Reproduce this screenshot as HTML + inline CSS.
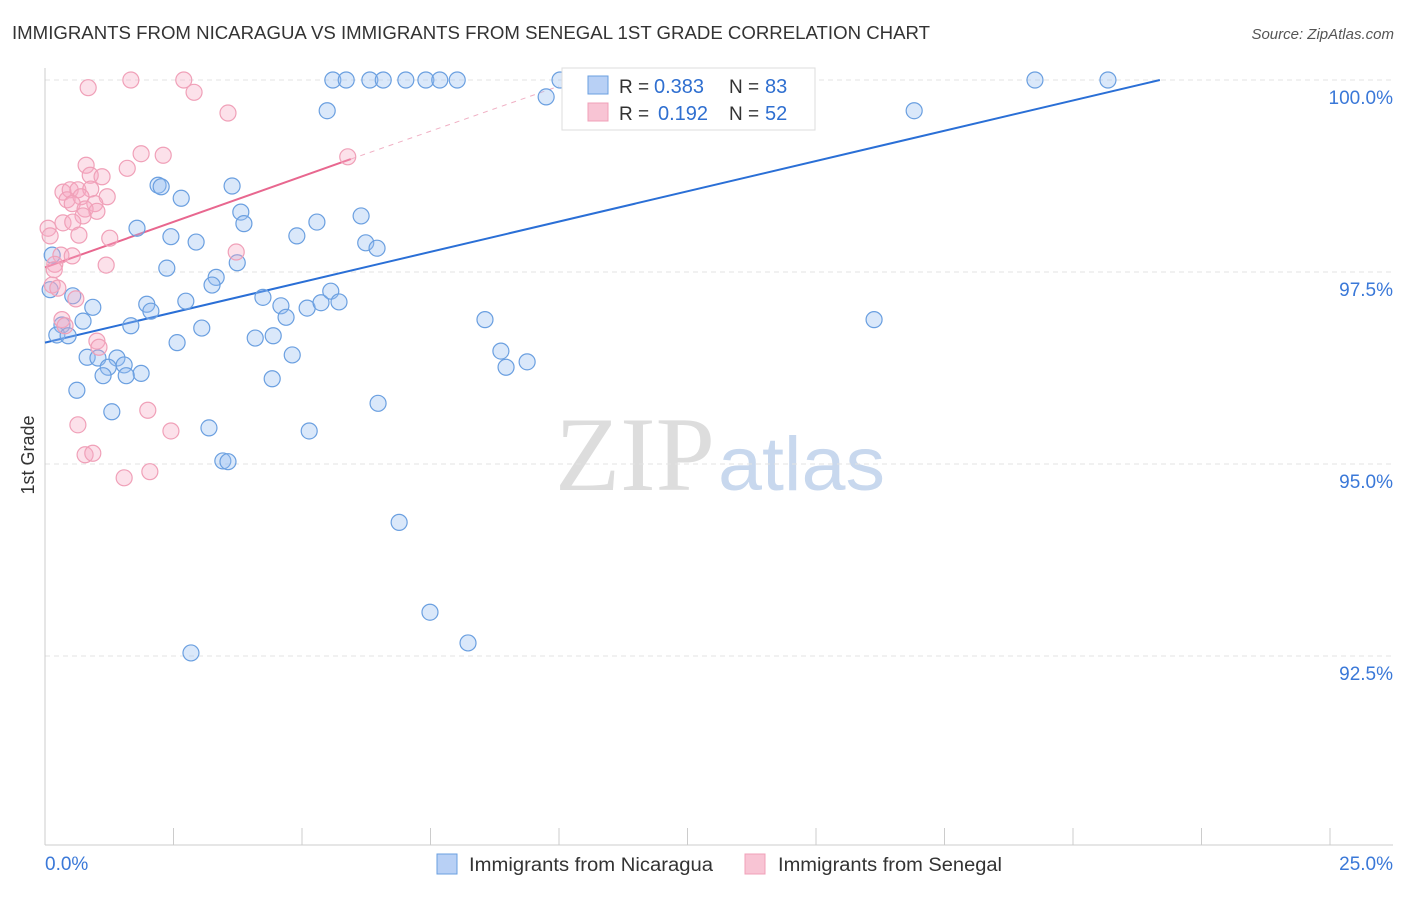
<!DOCTYPE html>
<html><head><meta charset="utf-8"><style>
body{margin:0;background:#fff;font-family:"Liberation Sans",sans-serif}
</style></head><body>
<svg id="chart" width="1406" height="892" xmlns="http://www.w3.org/2000/svg">
<text x="12" y="39" font-size="18" fill="#333" textLength="918" lengthAdjust="spacingAndGlyphs">IMMIGRANTS FROM NICARAGUA VS IMMIGRANTS FROM SENEGAL 1ST GRADE CORRELATION CHART</text>
<text x="1394" y="39" font-size="15" fill="#555" font-style="italic" text-anchor="end">Source: ZipAtlas.com</text>
<text x="555" y="490" font-size="106" fill="#ddd" textLength="160" lengthAdjust="spacingAndGlyphs" font-family="Liberation Serif,serif">ZIP</text>
<text x="718" y="490" font-size="76" fill="#c8d8ee" textLength="167" lengthAdjust="spacingAndGlyphs">atlas</text>
<text transform="translate(34,455) rotate(-90)" font-size="18" fill="#333" text-anchor="middle">1st Grade</text>
<g id="grid"></g><g id="axes"></g><g id="trend"></g><g id="pts"></g>
<g>
<rect x="562" y="68" width="253" height="62" fill="#fff" stroke="#ddd"/>
<rect x="588" y="76" width="20" height="18" fill="#b8d0f5" stroke="#6a9fe0"/>
<rect x="588" y="103" width="20" height="18" fill="#f8c4d4" stroke="#f0a0b8"/>
<text x="619" y="93" font-size="19" fill="#333">R =</text>
<text x="654" y="93" font-size="20" fill="#2f6fd0">0.383</text>
<text x="729" y="93" font-size="19" fill="#333">N =</text>
<text x="765" y="93" font-size="20" fill="#2f6fd0">83</text>
<text x="619" y="120" font-size="19" fill="#333">R =</text>
<text x="658" y="120" font-size="20" fill="#2f6fd0">0.192</text>
<text x="729" y="120" font-size="19" fill="#333">N =</text>
<text x="765" y="120" font-size="20" fill="#2f6fd0">52</text>
</g>
<g>
<rect x="437" y="854" width="20" height="20" fill="#b8d0f5" stroke="#6a9fe0"/>
<text x="469" y="871" font-size="19" fill="#333" textLength="244" lengthAdjust="spacingAndGlyphs">Immigrants from Nicaragua</text>
<rect x="745" y="854" width="20" height="20" fill="#f8c4d4" stroke="#f0a0b8"/>
<text x="778" y="871" font-size="19" fill="#333" textLength="224" lengthAdjust="spacingAndGlyphs">Immigrants from Senegal</text>
</g>
</svg>
<script>
const blueX=[5.60,5.86,6.32,6.58,7.02,7.41,7.68,8.02,10.02,11.96,19.26,20.68,5.49,9.75,16.91,2.20,2.26,3.64,2.65,3.81,3.87,1.79,2.45,2.94,4.90,5.29,6.15,6.24,6.46,2.37,3.74,3.33,3.25,0.14,0.10,0.54,0.93,1.98,2.06,2.74,4.24,4.59,4.69,5.10,5.37,5.56,5.72,8.56,16.13,0.33,0.74,1.67,3.05,0.23,0.45,2.57,4.09,4.44,4.81,8.87,8.97,9.38,0.82,1.03,1.40,1.54,1.23,1.87,1.13,1.58,4.42,0.62,6.48,1.30,3.19,5.14,3.46,3.56,6.89,7.49,8.23,2.84];
const blueY=[100,100,100,100,100,100,100,100,100,100,100,100,99.60,99.78,99.60,98.63,98.61,98.62,98.46,98.28,98.13,98.07,97.96,97.89,97.97,98.15,98.23,97.88,97.81,97.55,97.62,97.43,97.33,97.72,97.27,97.19,97.04,97.08,96.99,97.12,97.17,97.06,96.91,97.03,97.10,97.25,97.11,96.88,96.88,96.81,96.86,96.80,96.77,96.68,96.67,96.58,96.64,96.67,96.42,96.47,96.26,96.33,96.39,96.38,96.38,96.29,96.26,96.18,96.15,96.15,96.11,95.96,95.79,95.68,95.47,95.43,95.04,95.03,94.24,93.07,92.67,92.54];
const pinkX=[0.84,1.67,2.70,2.90,3.56,1.87,2.30,5.89,0.80,1.60,0.88,1.11,0.35,0.49,0.64,0.43,0.89,1.21,0.70,0.53,0.97,0.78,1.01,0.74,0.35,0.54,0.06,0.10,0.66,1.26,3.72,0.31,0.53,0.19,1.19,0.18,0.14,0.25,0.60,0.33,0.39,1.01,1.05,2.00,0.64,2.45,0.78,0.93,2.04,1.54];
const pinkY=[99.90,100,100,99.84,99.57,99.04,99.02,99.00,98.89,98.85,98.76,98.74,98.54,98.57,98.57,98.44,98.58,98.48,98.48,98.39,98.39,98.32,98.29,98.23,98.14,98.15,98.07,97.97,97.98,97.94,97.76,97.72,97.71,97.60,97.59,97.53,97.33,97.29,97.15,96.88,96.80,96.60,96.52,95.70,95.51,95.43,95.12,95.14,94.90,94.82];
const yTicks=[100,97.5,95,92.5];
const yTickLabels=["100.0%","97.5%","95.0%","92.5%"];
const blueTrend=[[0,96.58],[21.69,100]];
const pinkTrend=[[0,97.56],[5.95,98.97]];
const pinkDash=[[5.95,98.97],[10.0,99.92]];
const NS="http://www.w3.org/2000/svg";
const sx=v=>45+v*51.4, sy=v=>80+(100-v)*76.8;
function mk(p,t,a){const e=document.createElementNS(NS,t);for(const k in a)e.setAttribute(k,a[k]);p.appendChild(e);return e;}
const grid=document.getElementById('grid'),axes=document.getElementById('axes'),trend=document.getElementById('trend'),pts=document.getElementById('pts');
yTicks.forEach((t,i)=>{
 const l=mk(grid,'line',{x1:45,x2:1393,y1:sy(t),y2:sy(t),stroke:'#e3e3e3','stroke-dasharray':'5,4'});
 
 
 const tx=mk(grid,'text',{x:1393,y:sy(t)+24,'font-size':19,fill:'#3a78d8','text-anchor':'end'});
 tx.textContent=yTickLabels[i];
 
 
});
mk(axes,'line',{x1:45,x2:45,y1:68,y2:845,stroke:'#ccc'});
mk(axes,'line',{x1:45,x2:1393,y1:845,y2:845,stroke:'#ccc'});
for(let i=0;i<=10;i++){mk(axes,'line',{x1:sx(i*2.5),x2:sx(i*2.5),y1:828,y2:845,stroke:'#ccc'});}
const xl0=mk(axes,'text',{x:45,y:870,'font-size':19,fill:'#3a78d8'});xl0.textContent='0.0%';


const xl1=mk(axes,'text',{x:1393,y:870,'font-size':19,fill:'#3a78d8','text-anchor':'end'});xl1.textContent='25.0%';


const bt=mk(trend,'line',{x1:sx(blueTrend[0][0]),y1:sy(blueTrend[0][1]),x2:sx(blueTrend[1][0]),y2:sy(blueTrend[1][1]),stroke:'#2a6fd6','stroke-width':2});


const pt=mk(trend,'line',{x1:sx(pinkTrend[0][0]),y1:sy(pinkTrend[0][1]),x2:sx(pinkTrend[1][0]),y2:sy(pinkTrend[1][1]),stroke:'#e8678f','stroke-width':2});


const pd=mk(trend,'line',{x1:sx(pinkDash[0][0]),y1:sy(pinkDash[0][1]),x2:sx(pinkDash[1][0]),y2:sy(pinkDash[1][1]),stroke:'#f0b0c4','stroke-width':1,'stroke-dasharray':'5,5'});


blueX.forEach((x,i)=>{const c=mk(pts,'circle',{cx:sx(x),cy:sy(blueY[i]),r:8,fill:'rgba(150,190,240,0.35)',stroke:'#6a9fe0','stroke-width':1.2});
 
 });
pinkX.forEach((x,i)=>{const c=mk(pts,'circle',{cx:sx(x),cy:sy(pinkY[i]),r:8,fill:'rgba(245,170,195,0.35)',stroke:'#f0a0b8','stroke-width':1.2});
 
 });
</script>
</body></html>
